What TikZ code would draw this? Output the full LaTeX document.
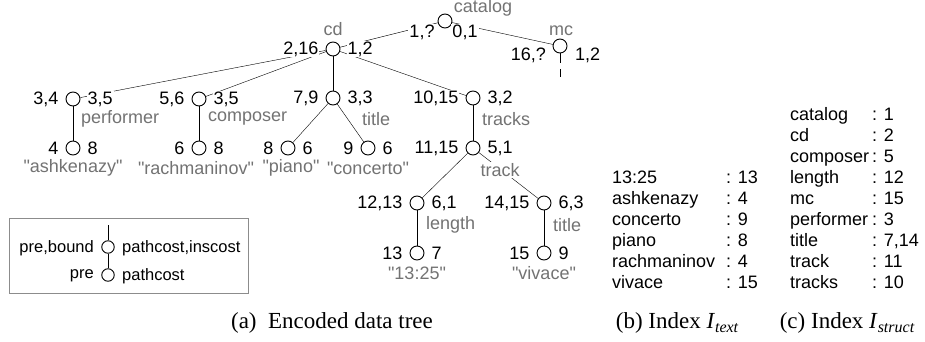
\documentclass[tikz,border=0pt]{standalone}
\usepackage{fontspec}
\setmainfont{Liberation Serif}
\setsansfont{Liberation Sans}
\usetikzlibrary{backgrounds}
\definecolor{lblgray}{RGB}{115,115,115}
\definecolor{boxgray}{RGB}{140,140,140}
\tikzset{
  vtx/.style={circle,draw,fill=white,inner sep=0pt,minimum size=14pt,line width=0.9pt},
  lvtx/.style={vtx,minimum size=12.5pt},
  num/.style={font=\sffamily\fontsize{18}{18}\selectfont,inner sep=1pt,fill=white},
  tag/.style={font=\sffamily\fontsize{18}{18}\selectfont,text=lblgray,inner sep=1pt,fill=white},
  leg/.style={font=\sffamily\fontsize{16.5}{16.5}\selectfont,inner sep=1pt},
  captxt/.style={font=\fontsize{23}{23}\selectfont,inner sep=0pt},
  idx/.style={font=\sffamily\fontsize{18}{21}\selectfont,inner sep=0pt,anchor=north west},
  wire/.style={line width=0.9pt}
}
% vertex with its two numbers
\newcommand{\tnode}[4]{%
  \node[vtx] (#1) at (#2) {};
  \node[num,anchor=east] (#1-l) at ([xshift=-6pt]#1.west) {#3};
  \node[num,anchor=west] (#1-r) at ([xshift=6pt]#1.east) {#4};
}
\newcommand{\qt}[1]{\textquotedbl#1\textquotedbl}
\newcommand{\subidx}[1]{\raisebox{-4pt}{\fontsize{16}{16}\selectfont\itshape #1}}
\begin{document}
\begin{tikzpicture}[x=1pt,y=-1pt]
  \useasboundingbox (0,0) rectangle (925,342);
  % root and mc
  \node[vtx] (catalog) at (445,21) {};
  \node[num] (catalog-l) at (422,32) {1,?};
  \node[num] (catalog-r) at (465,32) {0,1};
  \node[tag,fill=none] (catalog-t) at (483,8) {catalog};
  \node[vtx] (mc) at (560,46) {};
  \node[num,anchor=east] (mc-l) at (547,55) {16,?};
  \node[num,anchor=west] (mc-r) at (574,55) {1,2};
  \node[tag] (mc-t) at (561,31) {mc};
  % tree
  \tnode{cd}{333,49}{2,16}{1,2}
  \node[tag] (cd-t) at (333,29) {cd};
  \tnode{perf}{73,99}{3,4}{3,5}
  \tnode{comp}{199,99}{5,6}{3,5}
  \tnode{ttl}{333,98}{7,9}{3,3}
  \tnode{trks}{473,98}{10,15}{3,2}
  \tnode{ashk}{73,148}{4}{8}
  \tnode{rach}{199,148}{6}{8}
  \tnode{pno}{288,148}{8}{6}
  \tnode{conc}{368,148}{9}{6}
  \tnode{trk}{473,148}{11,15}{5,1}
  \tnode{len}{417,203}{12,13}{6,1}
  \tnode{ttl2}{544,203}{14,15}{6,3}
  \tnode{dur}{417,253}{13}{7}
  \tnode{viv}{544,253}{15}{9}
  % edge tags
  \node[tag,anchor=west] (t-perf) at (80,119) {performer};
  \node[tag,anchor=west] (t-comp) at (207,119) {composer};
  \node[tag,anchor=west] (t-ttl) at (361,119) {title};
  \node[tag,anchor=west] (t-trks) at (481,119) {tracks};
  \node[tag] (t-trk) at (500,170) {track};
  \node[tag,anchor=west] (t-len) at (425,225) {length};
  \node[tag,anchor=west] (t-ttl2) at (552,225) {title};
  % text values
  \node[tag] (v-ashk) at (73,168) {\qt{ashkenazy}};
  \node[tag] (v-rach) at (196,168) {\qt{rachmaninov}};
  \node[tag] (v-pno) at (291,168) {\qt{piano}};
  \node[tag] (v-conc) at (368,168) {\qt{concerto}};
  \node[tag] (v-dur) at (417,273) {\qt{13:25}};
  \node[tag] (v-viv) at (544,273) {\qt{vivace}};
  % legend
  \draw[boxgray,line width=0.8pt] (9,218) rectangle (248,293);
  \coordinate (lgtop) at (108,225);
  \node[lvtx] (lgA) at (108,247) {};
  \node[lvtx] (lgB) at (108,275) {};
  \node[leg,anchor=east] (lgA-l) at (95,248) {pre,bound};
  \node[leg,anchor=west] (lgA-r) at (121,248) {pathcost,inscost};
  \node[leg,anchor=east] (lgB-l) at (95,276) {pre};
  \node[leg,anchor=west] (lgB-r) at (121,276) {pathcost};
  \begin{scope}[on background layer,wire]
    \draw (catalog) -- (cd);
    \draw (catalog) -- (mc);
    \draw[dash pattern=on 10pt off 6pt] (mc.south) -- ++(0,24);
    \draw (cd) -- (perf);
    \draw (cd) -- (comp);
    \draw (cd) -- (ttl);
    \draw (cd) -- (trks);
    \draw (perf) -- (ashk);
    \draw (comp) -- (rach);
    \draw (ttl) -- (pno);
    \draw (ttl) -- (conc);
    \draw (trks) -- (trk);
    \draw (trk) -- (len);
    \draw (trk) -- (ttl2);
    \draw (len) -- (dur);
    \draw (ttl2) -- (viv);
    \draw (lgtop) -- (lgA);
    \draw (lgA) -- (lgB);
  \end{scope}
  % indexes
  \node[idx] (itext) at (612,169) {\begin{tabular}{@{}p{114pt}@{}l@{}}
    13:25 & : 13\\
    ashkenazy & : 4\\
    concerto & : 9\\
    piano & : 8\\
    rachmaninov & : 4\\
    vivace & : 15
  \end{tabular}};
  \node[idx] (istruct) at (790,106) {\begin{tabular}{@{}p{82pt}@{}l@{}}
    catalog & : 1\\
    cd & : 2\\
    composer & : 5\\
    length & : 12\\
    mc & : 15\\
    performer & : 3\\
    title & : 7,14\\
    track & : 11\\
    tracks & : 10
  \end{tabular}};
  % captions
  \node[captxt] (capa) at (332,323) {(a)\ \ Encoded data tree};
  \node[captxt] (capb) at (677,323) {(b) Index \textit{I}\subidx{text}};
  \node[captxt] (capc) at (847,323) {(c) Index \textit{I}\subidx{struct}};
\end{tikzpicture}
\end{document}
